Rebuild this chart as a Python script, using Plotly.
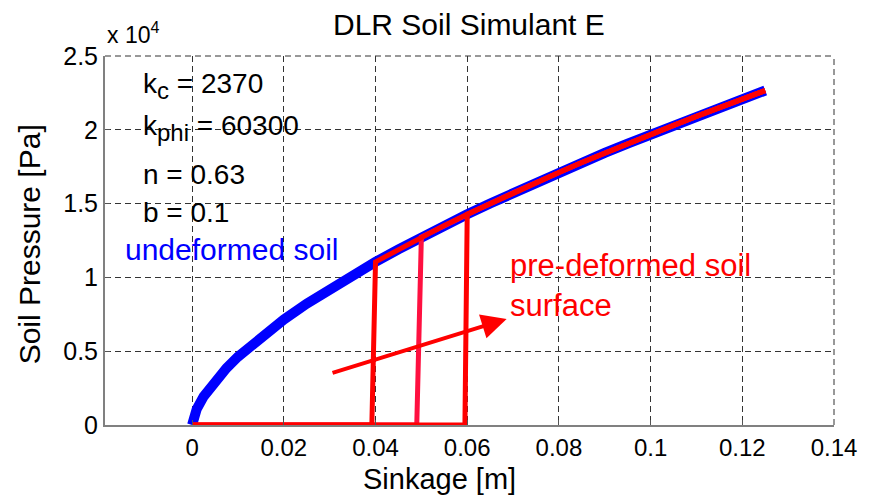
import plotly.graph_objects as go

# ---- data ----
sinkage = [0, 0.001, 0.0025, 0.005, 0.0075, 0.01, 0.015, 0.02, 0.025, 0.03, 0.035,
           0.04, 0.045, 0.05, 0.055, 0.06, 0.065, 0.07, 0.075, 0.08, 0.085, 0.09,
           0.095, 0.1, 0.105, 0.11, 0.115, 0.12, 0.125]
pressure = [0, 1080, 1930, 2980, 3850, 4620, 5960, 7140, 8220, 9220, 10160,
            11050, 11900, 12730, 13520, 14280, 15010, 15730, 16430, 17110, 17780, 18430,
            19070, 19690, 20300, 20910, 21500, 22080, 22660]

pre_start = [0.04, 0.05, 0.06]          # sinkage where reloading meets the virgin curve
pre_bottom = [0.0392, 0.049, 0.0595]    # sinkage where pressure leaves zero
pre_colors = ["#ff0000", "#ff1040", "#ff0000"]

SUB = "<sub><span style='font-size:24px'>{}</span></sub>"
params = ["k" + SUB.format("c") + " = 2370", "k" + SUB.format("phi") + " = 60300",
          "n = 0.63", "b = 0.1"]
param_y = [22970, 20120, 16940, 14430]

xticks = [0, 0.02, 0.04, 0.06, 0.08, 0.1, 0.12, 0.14]
xticktext = ["0", "0.02", "0.04", "0.06", "0.08", "0.1", "0.12", "0.14"]
yticks = [0, 5000, 10000, 15000, 20000, 25000]
yticktext = ["0", "0.5", "1", "1.5", "2", "2.5"]

FONT = "Arial, Liberation Sans, sans-serif"

fig = go.Figure()
fig.add_trace(go.Scatter(x=sinkage, y=pressure, mode="lines",
                         line=dict(color="#0000ff", width=10), showlegend=False))

order = [1, 0, 2]
for i in order:
    xs = [0, pre_bottom[i]] + [z for z in sinkage if z >= pre_start[i] - 1e-9]
    ys = [0, 0] + [p for z, p in zip(sinkage, pressure) if z >= pre_start[i] - 1e-9]
    fig.add_trace(go.Scatter(x=xs, y=ys, mode="lines",
                             line=dict(color=pre_colors[i], width=5), showlegend=False))

annotations = []
for t, y in zip(params, param_y):
    annotations.append(dict(x=-0.0111, y=y, xref="x", yref="y", text=t, showarrow=False,
                            xanchor="left", yanchor="middle",
                            font=dict(family=FONT, size=28, color="black")))

annotations.append(dict(x=-0.0150, y=11860, xref="x", yref="y", text="undeformed soil",
                        showarrow=False, xanchor="left", yanchor="middle",
                        font=dict(family=FONT, size=30, color="#0000ff")))
annotations.append(dict(x=0.0690, y=9480, xref="x", yref="y",
                        text="pre-deformed soil<br>surface", align="left",
                        showarrow=False, xanchor="left", yanchor="middle",
                        font=dict(family=FONT, size=31, color="#ff0000")))
annotations.append(dict(x=0.0686, y=7180, xref="x", yref="y", ax=0.0303, ay=3500,
                        axref="x", ayref="y", text="", showarrow=True, arrowhead=2,
                        arrowsize=1.25, arrowwidth=4, arrowcolor="#ff0000"))
# axis exponent
annotations.append(dict(x=0.0, y=1.062, xref="paper", yref="paper",
                        text="x 10<sup>4</sup>", showarrow=False, xanchor="left",
                        yanchor="middle", font=dict(family=FONT, size=23, color="black")))
# title
annotations.append(dict(x=0.499, y=1.086, xref="paper", yref="paper",
                        text="DLR Soil Simulant E", showarrow=False, xanchor="center",
                        yanchor="middle", font=dict(family=FONT, size=30, color="black")))
# axis titles
annotations.append(dict(x=0.459, y=-0.147, xref="paper", yref="paper",
                        text="Sinkage [m]", showarrow=False, xanchor="center",
                        yanchor="middle", font=dict(family=FONT, size=29, color="black")))
annotations.append(dict(x=-0.104, y=0.49, xref="paper", yref="paper",
                        text="Soil Pressure [Pa]", showarrow=False, textangle=-90,
                        xanchor="center", yanchor="middle",
                        font=dict(family=FONT, size=30, color="black")))

shapes = [
    dict(type="line", xref="paper", yref="paper", x0=0, x1=1, y0=1, y1=1,
         line=dict(color="#333333", width=1, dash="6px,4px")),
    dict(type="line", xref="paper", yref="paper", x0=1, x1=1, y0=0, y1=1,
         line=dict(color="#333333", width=1, dash="6px,4px")),
]

fig.update_layout(
    width=872, height=497,
    margin=dict(l=105, r=38, t=56, b=72),
    paper_bgcolor="white", plot_bgcolor="white",
    annotations=annotations, shapes=shapes,
    font=dict(family=FONT, color="black"),
)
fig.update_xaxes(range=[-0.019, 0.14], tickvals=xticks, ticktext=xticktext,
                 showgrid=True, gridcolor="#333333", griddash="6px,4px", gridwidth=1,
                 zeroline=False, showline=True, linecolor="#808080", linewidth=1.5,
                 ticks="inside", ticklen=5, tickcolor="#555555",
                 tickfont=dict(family=FONT, size=24, color="black"),
                 ticklabelstandoff=0)
fig.update_yaxes(range=[0, 25000], tickvals=yticks, ticktext=yticktext,
                 showgrid=True, gridcolor="#333333", griddash="6px,4px", gridwidth=1,
                 zeroline=False, showline=True, linecolor="#808080", linewidth=2,
                 ticks="inside", ticklen=5, tickcolor="#555555",
                 tickfont=dict(family=FONT, size=25, color="black"),
                 ticklabelstandoff=0)

fig.write_html("out.html")
